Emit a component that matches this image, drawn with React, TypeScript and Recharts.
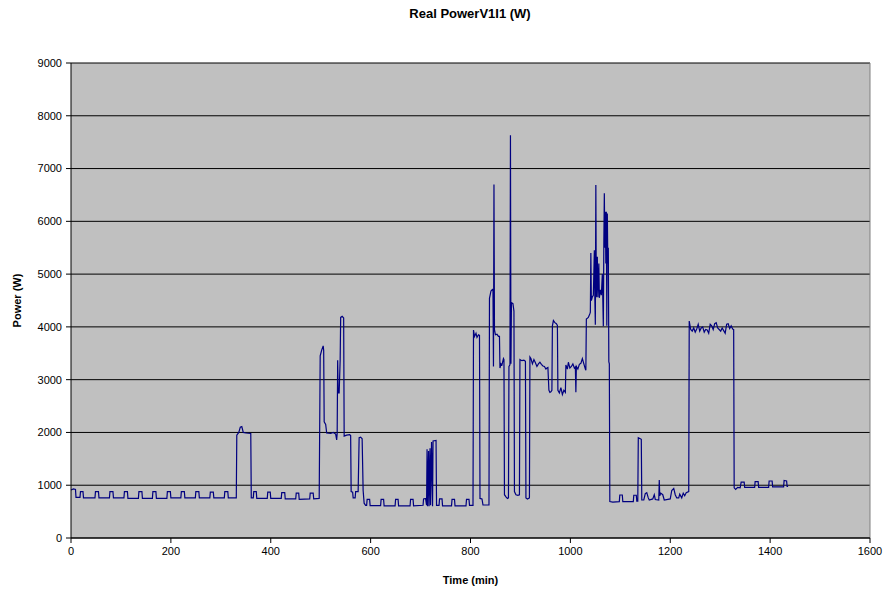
import { LineChart, Line, XAxis, YAxis, CartesianGrid, ReferenceLine } from 'recharts';

// [minute, watts] readings, split by part of the day
const overnight: [number, number][] = [
  [0, 910], [5, 930], [9, 920], [10, 770], [18, 770], [19, 880], [24, 880], [25, 760],
  [48, 760], [49, 880], [55, 880], [56, 760], [77, 760], [78, 880], [84, 880], [85, 760],
  [106, 760], [107, 880], [113, 880], [114, 750], [135, 750], [136, 880], [142, 880], [143, 750],
  [163, 750], [164, 880], [170, 880], [171, 750], [192, 750], [193, 880], [199, 880], [200, 760],
  [220, 760], [221, 880], [227, 880], [228, 760], [249, 760], [250, 880], [256, 880], [257, 760],
  [278, 760], [279, 870], [285, 870], [286, 760], [307, 760], [308, 880], [314, 880], [315, 760],
  [330, 760],
];

const morning: [number, number][] = [
  [331, 760], [332, 1950], [336, 2000], [339, 2100], [342, 2110], [345, 2000], [350, 1990],
  [360, 1980], [361, 760], [365, 760], [366, 880], [371, 880], [372, 750], [393, 750],
  [394, 870], [399, 870], [400, 750], [421, 750], [422, 860], [428, 860], [429, 740],
  [450, 740], [451, 850], [456, 850], [457, 730], [478, 740], [479, 850], [485, 850],
  [486, 740], [497, 750], [499, 3450], [502, 3560], [505, 3640], [506, 3550], [507, 2200],
  [510, 2150], [512, 1990], [520, 1980], [525, 2000], [530, 1970], [532, 1860], [533, 1980],
  [534, 3370], [535, 2750], [537, 2750], [539, 3370], [540, 4180], [543, 4200], [546, 4170],
  [547, 1930], [552, 1950], [558, 1960], [560, 1940], [561, 880], [564, 870], [565, 760],
  [569, 760], [570, 880], [575, 880], [577, 1900], [580, 1910], [583, 1880], [585, 900],
  [587, 660], [590, 620],
];

const midday: [number, number][] = [
  [592, 620], [593, 730], [598, 730], [599, 615], [620, 615], [621, 730], [626, 730], [627, 610],
  [649, 610], [650, 730], [655, 730], [656, 610], [679, 610], [680, 730], [685, 730], [686, 610],
  [705, 620], [706, 740], [710, 750], [712, 620], [713, 1680], [714, 600], [716, 1650],
  [717, 600], [719, 1700], [720, 620], [722, 1820], [724, 600], [725, 1840], [731, 1850],
  [732, 620], [737, 620], [738, 740], [743, 740], [744, 610], [762, 610], [763, 730],
  [768, 730], [769, 610], [791, 610], [792, 730], [797, 730], [798, 620], [805, 620],
];

const afternoon: [number, number][] = [
  [806, 3940], [808, 3820], [811, 3880], [813, 3800], [816, 3850], [818, 3840], [819, 750],
  [823, 740], [825, 625], [837, 625], [838, 4540], [841, 4680], [844, 4710], [845, 4700],
  [846, 3250], [847, 6700], [848, 3950], [850, 3850], [853, 3860], [856, 3820], [858, 3820],
  [859, 3220], [861, 3300], [863, 3280], [866, 3400], [867, 3380], [868, 820], [871, 780],
  [874, 750], [876, 760], [877, 3250], [879, 3280], [880, 7630], [881, 3300], [882, 4460],
  [885, 4440], [887, 4300], [888, 880], [891, 820], [895, 810], [898, 820], [899, 3380],
  [903, 3360], [907, 3370], [910, 3350], [911, 760], [914, 740], [916, 750], [918, 760],
  [919, 3430], [921, 3400], [924, 3300], [927, 3380], [930, 3320], [933, 3250], [936, 3300],
  [939, 3330], [942, 3290], [945, 3260], [948, 3250], [951, 3200], [953, 3220], [955, 3230],
  [957, 2800], [959, 2760], [961, 2770], [963, 2800], [964, 4020], [966, 4120], [969, 4080],
  [972, 4060], [974, 4030], [975, 2800], [978, 2750], [981, 2850], [984, 2720], [987, 2800],
  [990, 2760], [991, 3280], [994, 3200], [996, 3330], [999, 3220], [1002, 3250], [1005, 3300],
  [1008, 3220], [1010, 3240], [1011, 2760], [1012, 3250], [1015, 3200], [1018, 3290],
  [1021, 3310], [1024, 3400], [1027, 3300], [1030, 3200], [1031, 3180], [1032, 4150],
  [1036, 4180], [1039, 4250], [1040, 4280], [1041, 5400], [1042, 4500], [1044, 4570],
  [1046, 4600], [1048, 5450], [1049, 4530], [1050, 4040], [1051, 6690], [1052, 4560],
  [1054, 5330], [1055, 4560], [1057, 5200], [1058, 4550], [1060, 4700], [1062, 4600],
  [1064, 5000], [1066, 4010], [1067, 5600], [1068, 6530], [1069, 5500], [1070, 6180],
  [1071, 5200], [1072, 6180], [1073, 4020], [1074, 6150], [1075, 5200], [1076, 5500],
  [1077, 3340], [1078, 3300], [1079, 690],
];

const evening: [number, number][] = [
  [1085, 680], [1098, 690], [1099, 815], [1104, 815], [1105, 690], [1126, 690], [1127, 810],
  [1132, 810], [1133, 700], [1135, 700], [1136, 1900], [1140, 1880], [1142, 1870], [1143, 720],
  [1147, 720], [1150, 840], [1153, 860], [1156, 760], [1158, 720], [1165, 740], [1168, 820],
  [1170, 730], [1177, 720], [1178, 1100], [1179, 800], [1181, 850], [1185, 820], [1188, 720],
  [1200, 740], [1203, 900], [1207, 940], [1210, 820], [1213, 760], [1217, 760], [1219, 830],
  [1223, 760], [1226, 850], [1229, 800], [1232, 860], [1237, 880], [1238, 4110], [1241, 3950],
  [1244, 3920], [1247, 3980], [1250, 3900], [1253, 3960], [1256, 4050], [1259, 3920],
  [1262, 3980], [1265, 4000], [1268, 3900], [1271, 3950], [1274, 3940], [1277, 3880],
  [1280, 4050], [1283, 4020], [1286, 3950], [1289, 4060], [1292, 4080], [1295, 3980],
  [1298, 3950], [1301, 3920], [1304, 3980], [1307, 3930], [1310, 3880], [1313, 4050],
  [1316, 4060], [1319, 3970], [1322, 4020], [1325, 3960], [1327, 3950], [1328, 950],
  [1331, 920], [1335, 960], [1340, 950], [1342, 1060], [1348, 1060], [1349, 960], [1369, 960],
  [1370, 1070], [1376, 1070], [1377, 960], [1397, 960], [1398, 1080], [1404, 1080], [1405, 970],
  [1427, 970], [1428, 1090], [1433, 1080], [1434, 980], [1436, 980],
];

const xTicks = [0, 200, 400, 600, 800, 1000, 1200, 1400, 1600];
const yTicks = [0, 1000, 2000, 3000, 4000, 5000, 6000, 7000, 8000, 9000];

const readings = [...overnight, ...morning, ...midday, ...afternoon, ...evening].map(([t, w]) => ({
  t,
  w,
}));

const font = 'Arial, "Liberation Sans", sans-serif';
const tickStyle = { fontSize: 11, fill: '#000', fontFamily: font };

export default function App() {
  return (
    <div style={{ position: 'absolute', left: 0, top: 0, width: 888, height: 590, background: '#fff' }}>
      <div
        style={{
          position: 'absolute',
          left: 320,
          top: 6,
          width: 300,
          textAlign: 'center',
          fontFamily: font,
          fontWeight: 'bold',
          fontSize: 13,
        }}
      >
        Real PowerV1I1 (W)
      </div>
      <LineChart width={888} height={590} data={readings} margin={{ top: 63, right: 18, bottom: 0, left: 0 }}>
        <CartesianGrid vertical={false} stroke="#000" fill="#C0C0C0" fillOpacity={1} />
        <ReferenceLine x={1600} stroke="#808080" />
        <XAxis
          dataKey="t"
          type="number"
          domain={[0, 1600]}
          ticks={xTicks}
          height={52}
          stroke="#000"
          tickSize={5}
          tickMargin={4}
          tick={tickStyle}
          label={{
            value: 'Time (min)',
            position: 'insideBottom',
            offset: 6,
            style: { fontSize: 11, fontWeight: 'bold', fill: '#000', fontFamily: font },
          }}
        />
        <YAxis
          type="number"
          domain={[0, 9000]}
          ticks={yTicks}
          width={71}
          stroke="#000"
          tickSize={5}
          tickMargin={4}
          tick={tickStyle}
          label={{
            value: 'Power (W)',
            angle: -90,
            position: 'insideLeft',
            offset: 17,
            style: { fontSize: 11, fontWeight: 'bold', fill: '#000', fontFamily: font, textAnchor: 'middle' },
          }}
        />
        <Line
          dataKey="w"
          type="linear"
          stroke="#000080"
          strokeWidth={1.2}
          dot={false}
          isAnimationActive={false}
        />
      </LineChart>
    </div>
  );
}
